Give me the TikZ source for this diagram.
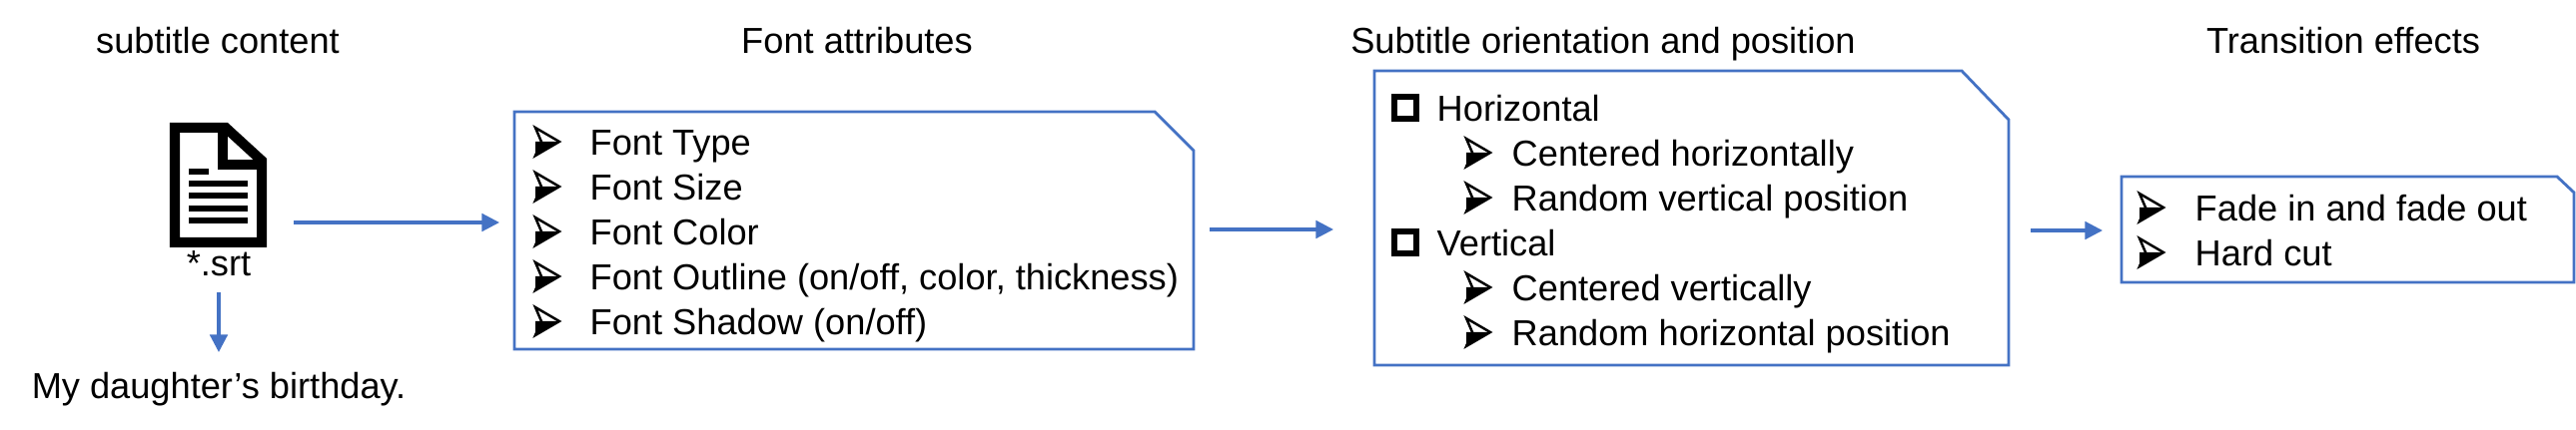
\documentclass[tikz,border=0pt]{standalone}
\usepackage{fontspec}
\setmainfont{Liberation Sans}
\usetikzlibrary{arrows.meta}
\definecolor{lblue}{HTML}{4472C4}
\begin{document}
\begin{tikzpicture}[x=0.01cm,y=-0.01cm,
  txt/.style={inner sep=0pt,anchor=west,text height=0.26cm,text depth=0cm,font=\fontsize{10.3}{12}\selectfont},
  ttl/.style={inner sep=0pt,text height=0.26cm,text depth=0cm,font=\fontsize{10.3}{12}\selectfont},
  boxline/.style={draw=lblue,line width=0.8pt},
  conn/.style={draw=lblue,line width=0.9pt,-{Triangle[length=5pt,width=5pt]}},
  barrow/.pic={
    \fill[black] (0,0) -- (6,0) -- (0,14) -- cycle;
    \fill[black] (6,0) -- (24,0) -- (0,14) -- cycle;
    \draw[black,line width=0.7pt,line join=miter] (0,-14) -- (24,0) -- (0,14) -- (6,0) -- cycle;
  },
  sqb/.pic={\draw[black,line width=0.055cm] (-11,-11) rectangle (11,11);}
]
\useasboundingbox (0,0) rectangle (2579,431);
% titles
\node[ttl] (t1) at (218,40) {subtitle content};
\node[ttl] (t2) at (858,40) {Font attributes};
\node[ttl] (t3) at (1605,40) {Subtitle orientation and position};
\node[ttl] (t4) at (2346,40) {Transition effects};
% document icon
\begin{scope}[line width=0.1cm,line join=miter]
\draw (175,128) -- (226,128) -- (262,161) -- (262,243) -- (175,243) -- cycle;
\draw (223,128) -- (223,165) -- (262,165);
\end{scope}
\begin{scope}[line width=0.06cm]
\draw (189,172) -- (209,172);
\foreach \yy in {184,196,209,221} \draw (189,\yy) -- (248,\yy);
\end{scope}
\coordinate (docout) at (294,223);
\node[ttl] (srt) at (219,263) {*.srt};
\node[ttl] (bday) at (219,386) {My daughter’s birthday.};
\draw[conn] (219,293) -- (bday.north |- 0,353);
% box 1
\draw[boxline] (515,112) -- (1156,112) -- (1195,151) -- (1195,350) -- (515,350) -- cycle;
\coordinate (b1in) at (500,223);
\coordinate (b1out) at (1211,230);
\foreach \yy/\tt in {142/{Font Type},187/{Font Size},232/{Font Color},277/{Font Outline (on/off, color, thickness)},322/{Font Shadow (on/off)}}{
  \pic at (536,\yy) {barrow};
  \node[txt] at (590,\yy) {\tt};
}
% box 2
\draw[boxline] (1376,71) -- (1964,71) -- (2011,120) -- (2011,366) -- (1376,366) -- cycle;
\coordinate (b2in) at (1335,230);
\coordinate (b2out) at (2033,231);
\pic at (1407,108) {sqb};
\node[txt] at (1438,108) {Horizontal};
\pic at (1468,153) {barrow};
\node[txt] at (1513,153) {Centered horizontally};
\pic at (1468,198) {barrow};
\node[txt] at (1513,198) {Random vertical position};
\pic at (1407,243) {sqb};
\node[txt] at (1438,243) {Vertical};
\pic at (1468,288) {barrow};
\node[txt] at (1513,288) {Centered vertically};
\pic at (1468,333) {barrow};
\node[txt] at (1513,333) {Random horizontal position};
% box 3
\draw[boxline] (2124,177) -- (2560,177) -- (2577,193) -- (2577,283) -- (2124,283) -- cycle;
\coordinate (b3in) at (2105,231);
\pic at (2142,208) {barrow};
\node[txt] at (2197,208) {Fade in and fade out};
\pic at (2142,253) {barrow};
\node[txt] at (2197,253) {Hard cut};
% connectors
\draw[conn] (docout) -- (b1in);
\draw[conn] (b1out) -- (b2in);
\draw[conn] (b2out) -- (b3in);
\end{tikzpicture}
\end{document}
